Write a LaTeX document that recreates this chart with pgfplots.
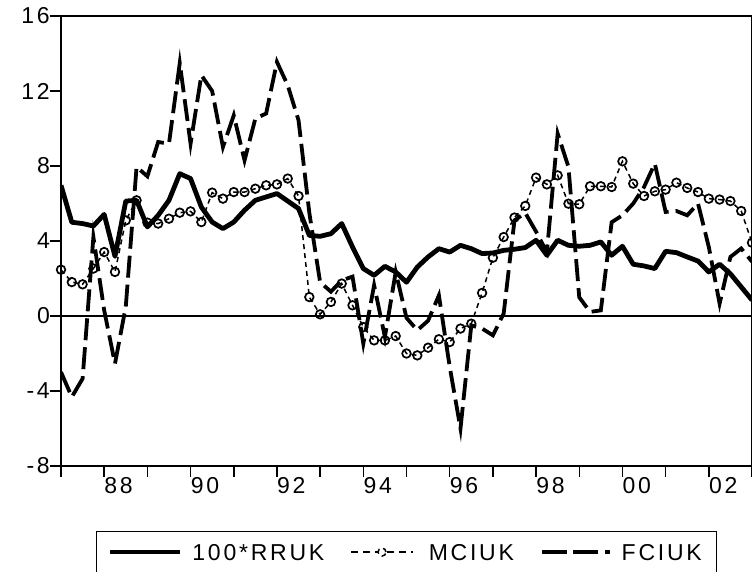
\documentclass[border=0pt]{standalone}
\usepackage{fontspec}
\setmainfont{Liberation Sans}[LetterSpace=12]
\usepackage{pgfplots}
\pgfplotsset{compat=1.18}
\usepackage{pgfplotstable}
\pgfplotstableread{
t r m f
0 6.97 2.47 -2.99
1 5.00 1.81 -4.32
2 4.93 1.69 -3.34
3 4.80 2.53 4.21
4 5.42 3.41 0.30
5 3.18 2.35 -2.54
6 6.13 5.10 0.50
7 6.17 6.17 7.95
8 4.75 4.98 7.45
9 5.37 4.93 9.28
10 6.17 5.19 9.19
11 7.59 5.51 13.49
12 7.33 5.58 9.19
13 5.81 5.01 12.84
14 5.01 6.58 12.00
15 4.66 6.26 9.01
16 5.01 6.61 10.70
17 5.64 6.61 8.30
18 6.17 6.79 10.53
19 6.35 6.97 10.80
20 6.53 7.02 13.55
21 6.13 7.33 12.30
22 5.73 6.40 10.44
23 4.30 1.01 5.50
24 4.25 0.09 1.80
25 4.39 0.75 1.30
26 4.93 1.73 1.90
27 3.68 0.57 2.10
28 2.53 -0.59 -1.47
29 2.17 -1.30 1.64
30 2.65 -1.30 -1.12
31 2.35 -1.07 2.35
32 1.80 -2.00 -0.10
33 2.61 -2.10 -0.76
34 3.15 -1.69 -0.25
35 3.59 -1.24 1.10
36 3.41 -1.39 -2.70
37 3.77 -0.67 -6.00
38 3.59 -0.41 -0.50
39 3.33 1.23 -0.67
40 3.36 3.11 -1.03
41 3.50 4.21 0.13
42 3.56 5.25 5.10
43 3.65 5.87 5.50
44 4.04 7.38 4.50
45 3.24 7.02 3.40
46 4.04 7.50 9.73
47 3.77 5.99 7.95
48 3.72 5.96 1.00
49 3.77 6.92 0.22
50 3.95 6.92 0.30
51 3.24 6.88 5.00
52 3.72 8.25 5.37
53 2.76 7.06 6.00
54 2.67 6.40 6.88
55 2.53 6.65 8.13
56 3.45 6.74 5.55
57 3.38 7.11 5.60
58 3.15 6.83 5.37
59 2.93 6.61 6.00
60 2.35 6.26 3.68
61 2.76 6.21 0.66
62 2.25 6.13 3.15
63 1.55 5.60 3.60
64 0.85 3.91 2.90
}\data

\begin{document}
\begin{tikzpicture}
\begin{axis}[
  scale only axis, width=691pt, height=450pt,
  xmin=0, xmax=64, ymin=-8, ymax=16,
  xtick={0,4,...,64},
  xticklabels={,88,,90,,92,,94,,96,,98,,00,,02,},
  ytick={-8,-4,0,4,8,12,16},
  yticklabels={-8,-4,0,4,8,12,16},
  /pgf/number format/assume math mode=true,
  xtick pos=left, ytick pos=left,
  tick align=outside, major tick length=11pt,
  tick style={line width=1.5pt, black},
  axis line style={line width=1.3pt},
  tick label style={font=\fontsize{23}{23}\selectfont},
  yticklabel style={anchor=east, inner sep=0pt},
  xticklabel style={anchor=north west, inner sep=0pt},
  legend columns=3,
  legend cell align=left,
  legend style={at={(0,0)}, anchor=north west, xshift=35pt, yshift=-65pt,
    draw=black, line width=1.3pt, inner xsep=11pt, inner ysep=12.4pt,
    font=\fontsize{23}{23}\selectfont,
    nodes={inner sep=0pt, text depth=0pt}},
]
\addplot[black, line width=1.2pt, forget plot] coordinates {(0,0) (64,0)};
\addplot[black, line width=4.8pt, line join=round,
  legend image code/.code={
    \draw[black, line width=4.8pt] (0pt,0pt) -- (70pt,0pt);}]
  table[x=t, y=r]{\data};
\addlegendentry{\kern10pt 100*RRUK\kern26pt}
\addplot[black, line width=1.5pt, dash pattern=on 5pt off 4pt,
  mark=o, mark size=4.3pt, mark options={solid, fill=white, line width=1.7pt},
  legend image code/.code={
    \draw[black, line width=1.5pt, dash pattern=on 7pt off 5pt] (0pt,0pt) -- (62pt,0pt);
    \draw[black, line width=1.5pt, fill=white] (31pt,0pt) circle (4pt);}]
  table[x=t, y=m]{\data};
\addlegendentry{\kern15pt MCIUK\kern26pt}
\addplot[black, line width=3.8pt,
  dash pattern=on 22pt off 7pt,
  legend image code/.code={
    \draw[black, line width=3.8pt, dash pattern=on 25pt off 6pt on 25pt off 7pt on 5pt off 20pt] (0pt,0pt) -- (68pt,0pt);}]
  table[x=t, y=f]{\data};
\addlegendentry{\kern10pt FCIUK\kern4pt}
\end{axis}
\pgfresetboundingbox
\useasboundingbox (-61pt,-105pt) rectangle (691pt,466pt);
\end{tikzpicture}
\end{document}
